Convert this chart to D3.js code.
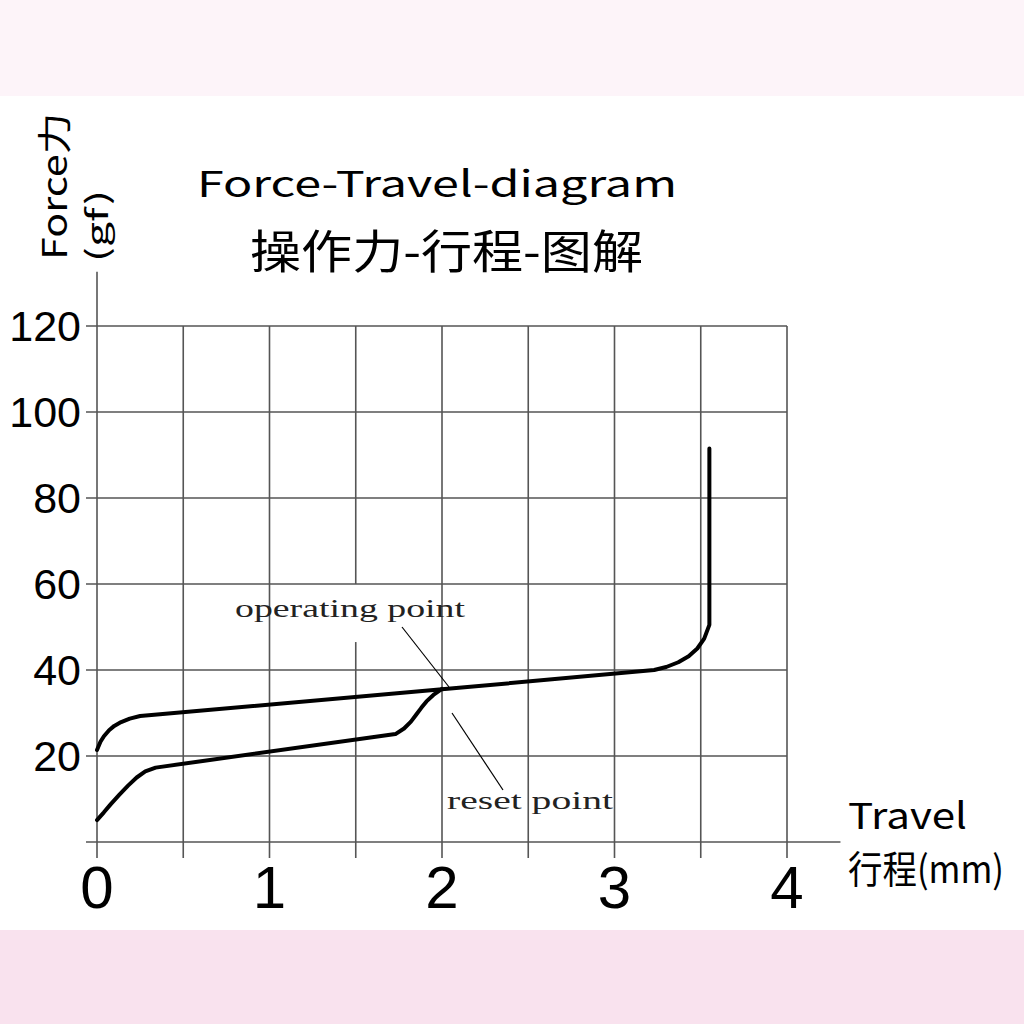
<!DOCTYPE html>
<html><head><meta charset="utf-8">
<script src="https://cdn.jsdelivr.net/npm/d3@7"></script>
<style>html,body{margin:0;padding:0;background:#fff;}svg{display:block;}</style>
</head><body>
<svg id="c" width="1024" height="1024"></svg>
<script>
// ---- data ----
const xTicks = [0, 1, 2, 3, 4];
const xGrid = [0.5, 1, 1.5, 2, 2.5, 3, 3.5, 4];
const yTicks = [20, 40, 60, 80, 100, 120];
const pressTravel = [0, 0.02, 0.04, 0.07, 0.10, 0.14, 0.19, 0.25, 2.0, 3.23, 3.30, 3.37, 3.43, 3.48, 3.52, 3.55, 3.55];
const pressForce  = [21.4, 23.3, 24.6, 26.0, 27.0, 27.9, 28.7, 29.3, 35.5, 40.0, 40.7, 41.8, 43.2, 45.0, 47.3, 50.5, 91.5];
const releaseTravel = [0, 0.04, 0.08, 0.13, 0.18, 0.23, 0.28, 0.34, 1.73, 1.78, 1.82, 1.85, 1.88, 1.91, 1.95, 2.0];
const releaseForce  = [5.1, 6.9, 8.8, 11.0, 13.1, 15.0, 16.4, 17.3, 25.1, 26.4, 28.0, 29.6, 31.2, 32.7, 34.2, 35.6];
const titleLines = ["Force-Travel-diagram", "操作力-行程-图解"];
const yLabel = ["Force力", "(gf)"];
const xLabel = ["Travel", "行程(mm)"];
const annotations = ["operating point", "reset point"];

// ---- layout ----
const svg = d3.select("#c");
svg.append("rect").attr("x",0).attr("y",0).attr("width",1024).attr("height",96).attr("fill","#fdf4f9");
svg.append("rect").attr("x",0).attr("y",930).attr("width",1024).attr("height",94).attr("fill","#f9e2ee");

const x = d3.scaleLinear().domain([0, 4]).range([97, 787]);
const y = d3.scaleLinear().domain([0, 120]).range([842, 326]);
const gridCol = "#555";

// horizontal grid lines (with tick stub to the left)
yTicks.forEach(v => {
  svg.append("line").attr("x1", x(0) - 11).attr("x2", x(4)).attr("y1", y(v)).attr("y2", y(v))
    .attr("stroke", gridCol).attr("stroke-width", 1.6);
});
// vertical grid lines (with tick stub below)
xGrid.forEach(v => {
  if (v === 1.5) {
    svg.append("line").attr("x1", x(v)).attr("x2", x(v)).attr("y1", y(120)).attr("y2", y(60))
      .attr("stroke", gridCol).attr("stroke-width", 1.6);
    svg.append("line").attr("x1", x(v)).attr("x2", x(v)).attr("y1", y(46.5)).attr("y2", y(0) + 16)
      .attr("stroke", gridCol).attr("stroke-width", 1.6);
  } else {
    svg.append("line").attr("x1", x(v)).attr("x2", x(v)).attr("y1", y(120)).attr("y2", y(0) + 16)
      .attr("stroke", gridCol).attr("stroke-width", 1.6);
  }
});
// axes
svg.append("line").attr("x1", x(0)).attr("x2", x(0)).attr("y1", y(132.6)).attr("y2", y(0) + 16)
  .attr("stroke", gridCol).attr("stroke-width", 1.6);
svg.append("line").attr("x1", x(0) - 11).attr("x2", x(4.31)).attr("y1", y(0)).attr("y2", y(0))
  .attr("stroke", gridCol).attr("stroke-width", 1.6);

// tick labels
yTicks.forEach(v => {
  svg.append("text").attr("x", 81).attr("y", y(v) + 15).attr("text-anchor", "end")
    .attr("font-family", "Liberation Sans, Arial, sans-serif").attr("font-size", 43)
    .attr("fill", "#000").text(v);
});
xTicks.forEach(v => {
  svg.append("text").attr("x", x(v)).attr("y", 908).attr("text-anchor", "middle")
    .attr("font-family", "Liberation Sans, Arial, sans-serif").attr("font-size", 60)
    .attr("fill", "#000").text(v);
});

// curves
const line = d3.line().x(d => x(d[0])).y(d => y(d[1])).curve(d3.curveLinear);
const press = pressTravel.map((t, i) => [t, pressForce[i]]);
const release = releaseTravel.map((t, i) => [t, releaseForce[i]]);
[press, release].forEach(s => {
  svg.append("path").attr("d", line(s)).attr("fill", "none").attr("stroke", "#000")
    .attr("stroke-width", 4).attr("stroke-linejoin", "round").attr("stroke-linecap", "round");
});

// annotations
const serif = "Liberation Serif, Times New Roman, serif";
svg.append("text").attr("x", 235).attr("y", 617).attr("font-family", serif).attr("font-size", 26)
  .attr("fill", "#222").attr("textLength", 230).attr("lengthAdjust", "spacingAndGlyphs").text(annotations[0]);
svg.append("text").attr("x", 447).attr("y", 809).attr("font-family", serif).attr("font-size", 26)
  .attr("fill", "#222").attr("textLength", 166).attr("lengthAdjust", "spacingAndGlyphs").text(annotations[1]);
svg.append("line").attr("x1", 402).attr("y1", 627).attr("x2", 449).attr("y2", 687)
  .attr("stroke", "#000").attr("stroke-width", 1.2);
svg.append("line").attr("x1", 452).attr("y1", 713).attr("x2", 503).attr("y2", 790)
  .attr("stroke", "#000").attr("stroke-width", 1.2);

// titles
const cjk = "Noto Sans CJK SC, sans-serif";
svg.append("text").attr("x", 197).attr("y", 197).attr("font-family", cjk).attr("font-size", 36)
  .attr("textLength", 480).attr("lengthAdjust", "spacingAndGlyphs").text(titleLines[0]);
svg.append("text").attr("x", 250).attr("y", 268).attr("font-family", cjk).attr("font-size", 46)
  .attr("textLength", 393).attr("lengthAdjust", "spacingAndGlyphs").text(titleLines[1]);

// y axis label (rotated)
svg.append("text").attr("transform", "translate(67,260) rotate(-90)").attr("font-family", cjk)
  .attr("font-size", 34).attr("textLength", 147).attr("lengthAdjust", "spacingAndGlyphs").text(yLabel[0]);
svg.append("text").attr("transform", "translate(108,262) rotate(-90)").attr("font-family", cjk)
  .attr("font-size", 30).attr("textLength", 72).attr("lengthAdjust", "spacingAndGlyphs").text(yLabel[1]);

// x axis label
svg.append("text").attr("x", 848).attr("y", 829).attr("font-family", cjk).attr("font-size", 36)
  .attr("textLength", 119).attr("lengthAdjust", "spacingAndGlyphs").text(xLabel[0]);
svg.append("text").attr("x", 848).attr("y", 883).attr("font-family", cjk).attr("font-size", 38)
  .attr("textLength", 156).attr("lengthAdjust", "spacingAndGlyphs").text(xLabel[1]);
</script>
</body></html>
